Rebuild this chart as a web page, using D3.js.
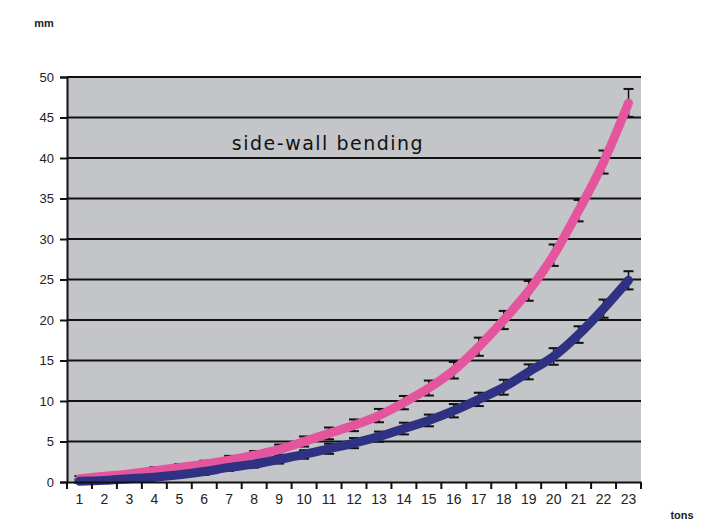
<!DOCTYPE html>
<html>
<head>
<meta charset="utf-8">
<script src="https://cdn.jsdelivr.net/npm/d3@7"></script>
<style>
  body{margin:0;background:#fff;}
  svg{display:block;font-family:"Liberation Sans",Arial,sans-serif;}
</style>
</head>
<body>
<div id="chart"></div>
<script>
const tons = d3.range(1, 24)
const pinkVals = [0.4,0.7,1.0,1.4,1.8,2.2,2.7,3.3,4.0,5.0,6.0,7.0,8.2,9.8,11.6,13.8,16.7,20.0,23.6,28.0,33.5,39.5,46.8]
const pinkErr  = [0.2,0.2,0.2,0.3,0.3,0.3,0.4,0.4,0.5,0.5,0.6,0.6,0.7,0.7,0.8,0.9,1.0,1.0,1.1,1.2,1.2,1.3,1.6]
const navyVals = [0.1,0.2,0.4,0.6,0.9,1.3,1.8,2.2,2.8,3.4,4.1,4.8,5.6,6.6,7.6,8.8,10.2,11.7,13.6,15.5,18.2,21.4,24.9]
const navyErr  = [0.1,0.1,0.2,0.2,0.2,0.3,0.3,0.3,0.4,0.4,0.5,0.5,0.5,0.6,0.6,0.7,0.7,0.8,0.8,0.9,0.9,1.0,1.0]
const yTicks = [0,5,10,15,20,25,30,35,40,45,50]

drawChart("#chart")

function drawChart(id){
    const canvas = {width:724, height:525, margin:{top:77, right:83, bottom:43, left:67}}
    const svg = d3.select(id).append("svg").attr("width",canvas.width).attr("height",canvas.height)
    const sc = addScales(canvas)
    addPlotArea(svg,sc,canvas)
    addErrorBars(svg,sc,pinkVals,pinkErr)
    addErrorBars(svg,sc,navyVals,navyErr)
    addLine(svg,sc,pinkVals,"#e4559e")
    addLine(svg,sc,navyVals,"#2f3183")
    addAxes(svg,sc,canvas)
    addLabels(svg,canvas)
}

function addScales(canvas){
    const xScale = d3.scaleBand().domain(tons)
      .range([canvas.margin.left, canvas.width - canvas.margin.right])
    const yScale = d3.scaleLinear().domain([0,50])
      .range([canvas.height - canvas.margin.bottom, canvas.margin.top])
    return {xScale, yScale}
}

function addPlotArea(svg,sc,canvas){
    const [x0,x1] = sc.xScale.range()
    svg.append("rect").attr("x",x0).attr("y",sc.yScale(50))
      .attr("width",x1-x0).attr("height",sc.yScale(0)-sc.yScale(50))
      .attr("fill","#c3c5c8")

    svg.append("g").selectAll("line").data(yTicks.filter(d => d > 0)).enter()
      .append("line")
      .attr("x1",x0).attr("x2",x1)
      .attr("y1",d => sc.yScale(d)).attr("y2",d => sc.yScale(d))
      .attr("stroke","#111").attr("stroke-width",2)
}

function cx(sc,t){ return sc.xScale(t) + sc.xScale.bandwidth()/2 }

function addLine(svg,sc,vals,color){
    const line = d3.line().x((d,i) => cx(sc,tons[i])).y(d => sc.yScale(d)).curve(d3.curveMonotoneX)
    svg.append("path").datum(vals).attr("fill","none").attr("stroke",color)
      .attr("stroke-width",9).attr("stroke-linecap","round").attr("d",line)
}

function addErrorBars(svg,sc,vals,errs){
    const g = svg.append("g").selectAll("g").data(vals).enter().append("g")
    g.append("line")
      .attr("x1",(d,i) => cx(sc,tons[i])).attr("x2",(d,i) => cx(sc,tons[i]))
      .attr("y1",(d,i) => sc.yScale(d + errs[i]) - 1).attr("y2",(d,i) => sc.yScale(d - errs[i]) + 1)
      .attr("stroke","#111").attr("stroke-width",1.5)
    g.append("line")
      .attr("x1",(d,i) => cx(sc,tons[i]) - 5).attr("x2",(d,i) => cx(sc,tons[i]) + 5)
      .attr("y1",(d,i) => sc.yScale(d + errs[i]) - 1).attr("y2",(d,i) => sc.yScale(d + errs[i]) - 1)
      .attr("stroke","#111").attr("stroke-width",2)
    g.append("line")
      .attr("x1",(d,i) => cx(sc,tons[i]) - 5).attr("x2",(d,i) => cx(sc,tons[i]) + 5)
      .attr("y1",(d,i) => sc.yScale(d - errs[i]) + 1).attr("y2",(d,i) => sc.yScale(d - errs[i]) + 1)
      .attr("stroke","#111").attr("stroke-width",2)
}

function addAxes(svg,sc,canvas){
    const x0 = sc.xScale.range()[0]
    const yAxis = svg.append("g").attr("transform",`translate(${x0},0)`)
      .call(d3.axisLeft(sc.yScale).tickValues(yTicks).tickSize(7).tickPadding(6))
    yAxis.select(".domain").attr("stroke","#111").attr("stroke-width",2)
    yAxis.selectAll(".tick line").attr("stroke","#111").attr("stroke-width",2)
    yAxis.selectAll("text").attr("font-size","13px").attr("fill","#222")

    const xAxis = svg.append("g").attr("transform",`translate(0,${sc.yScale(0)})`)
      .call(d3.axisBottom(sc.xScale).tickSize(0).tickPadding(12))
    xAxis.select(".domain").attr("stroke","#111").attr("stroke-width",2)
    xAxis.selectAll("text").attr("font-size","14px").attr("fill","#222")

    // ticks between categories
    const bounds = tons.map(t => sc.xScale(t)).concat([sc.xScale.range()[1]])
    xAxis.append("g").selectAll("line").data(bounds).enter().append("line")
      .attr("x1",d => d).attr("x2",d => d).attr("y1",0).attr("y2",7)
      .attr("stroke","#111").attr("stroke-width",2)
}

function addLabels(svg,canvas){
    svg.append("text").attr("x",328).attr("y",150).attr("text-anchor","middle")
      .attr("font-family","DejaVu Sans").attr("font-size","19px").attr("letter-spacing","1.5px")
      .attr("fill","#111").text("side-wall bending")

    svg.append("text").attr("x",44).attr("y",27).attr("text-anchor","middle")
      .attr("font-size","11px").attr("font-weight","bold").attr("fill","#222").text("mm")

    svg.append("text").attr("x",682).attr("y",519).attr("text-anchor","middle")
      .attr("font-size","11px").attr("font-weight","bold").attr("fill","#222").text("tons")
}
</script>
</body>
</html>
